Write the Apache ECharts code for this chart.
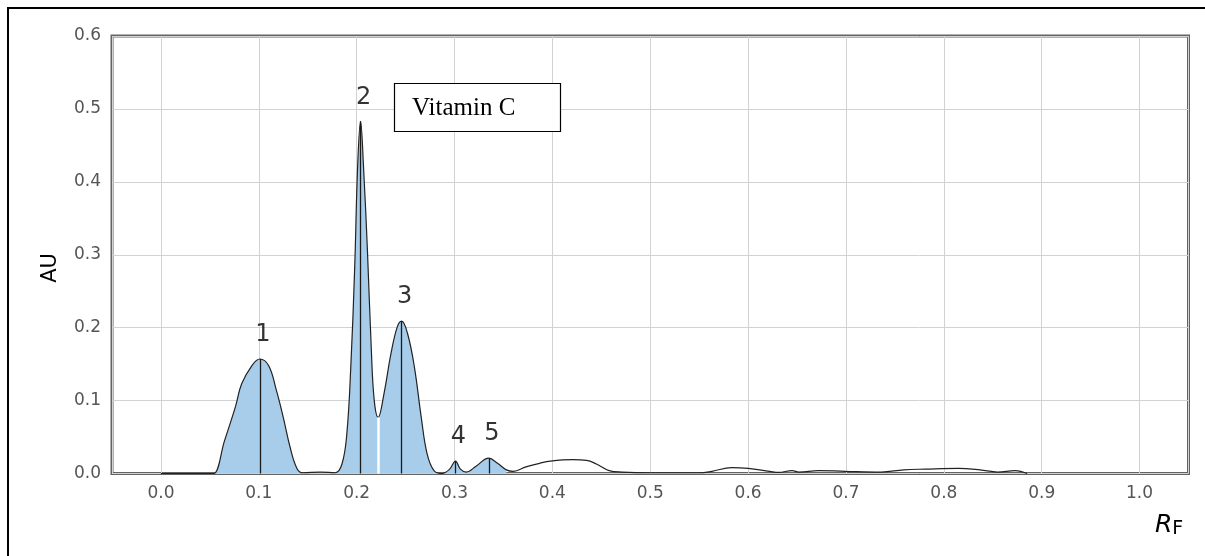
<!DOCTYPE html>
<html>
<head>
<meta charset="utf-8">
<title>Vitamin C densitogram</title>
<script src="https://cdn.jsdelivr.net/npm/echarts@6/dist/echarts.min.js"></script>
<style>
  html, body { margin: 0; padding: 0; background: #fff; }
  #main { width: 1205px; height: 556px; }
</style>
</head>
<body>
<div id="main"></div>
<script>
// densitogram trace (RF, AU)
var rf = [0.00, 0.05, 0.054, 0.065, 0.076, 0.0825, 0.093, 0.101, 0.11, 0.118, 0.125, 0.132, 0.139, 0.145,
  0.163, 0.178, 0.185, 0.190, 0.194, 0.198, 0.201, 0.204, 0.207, 0.211, 0.215, 0.218, 0.222, 0.228,
  0.235, 0.2415, 0.246, 0.252, 0.259, 0.266, 0.272, 0.279, 0.287, 0.295, 0.301, 0.306, 0.312, 0.322,
  0.335, 0.344, 0.353, 0.36, 0.373, 0.387, 0.398, 0.421, 0.435, 0.445, 0.458, 0.471, 0.5, 0.55,
  0.563, 0.583, 0.6, 0.622, 0.631, 0.645, 0.652, 0.672, 0.699, 0.736, 0.759, 0.781, 0.815, 0.837,
  0.855, 0.873, 0.885];
var au = [0, 0, 0, 0.045, 0.091, 0.123, 0.148, 0.157, 0.148, 0.114, 0.077, 0.036, 0.007, 0.001,
  0.002, 0.001, 0.013, 0.055, 0.146, 0.283, 0.421, 0.483, 0.421, 0.306, 0.169, 0.1, 0.077, 0.11,
  0.164, 0.201, 0.209, 0.192, 0.146, 0.077, 0.027, 0.004, 0.0, 0.006, 0.017, 0.006, 0.002, 0.010,
  0.021, 0.014, 0.005, 0.003, 0.009, 0.014, 0.017, 0.019, 0.018, 0.013, 0.004, 0.002, 0.001, 0.001,
  0.003, 0.008, 0.007, 0.003, 0.0015, 0.004, 0.002, 0.004, 0.003, 0.002, 0.005, 0.006, 0.007, 0.005,
  0.002, 0.004, 0.0];
var fillEnd = 0.355; // integrated zone ends here

// peaks
var peakNames = ['1', '2', '3', '4', '5'];
var peakRf = [0.101, 0.204, 0.246, 0.301, 0.335];
var peakAu = [0.157, 0.483, 0.209, 0.017, 0.021];
// valley split between peak 2 and 3
var splitRf = 0.222;
var splitAu = 0.077;

var yTicks = ['0.0', '0.1', '0.2', '0.3', '0.4', '0.5', '0.6'];

var trace = rf.map(function (x, i) { return [x, au[i]]; });
var filled = trace.filter(function (p) { return p[0] <= fillEnd; });

var peakLines = peakRf.map(function (x, i) {
  return [{ coord: [x, 0] }, { coord: [x, peakAu[i]] }];
});
peakLines.push([
  { coord: [splitRf, 0], lineStyle: { color: '#fff', width: 2.5 } },
  { coord: [splitRf, splitAu] }
]);

var chart = echarts.init(document.getElementById('main'));
chart.setOption({
  animation: false,
  backgroundColor: '#fff',
  grid: {
    left: 112, top: 36, right: 16.5, bottom: 82.5,
    show: true, borderColor: '#646464', borderWidth: 3
  },
  xAxis: {
    type: 'value',
    min: -0.05, max: 1.05,
    splitNumber: 11,
    axisLine: { show: false },
    axisTick: { show: false },
    splitLine: { lineStyle: { color: '#d2d2d2', width: 1 } },
    axisLabel: {
      showMinLabel: false, showMaxLabel: false,
      margin: 12, color: '#555', fontSize: 17, fontFamily: 'DejaVu Sans',
      formatter: function (v) { return v.toFixed(1); }
    }
  },
  yAxis: {
    type: 'value',
    min: 0, max: 0.6, interval: 0.1,
    axisLine: { show: false },
    axisTick: { show: false },
    splitLine: { lineStyle: { color: '#d2d2d2', width: 1 } },
    axisLabel: {
      margin: 11, color: '#555', fontSize: 17, fontFamily: 'DejaVu Sans',
      formatter: function (v) { return yTicks[Math.round(v * 10)]; }
    }
  },
  series: [
    {
      type: 'line',
      data: filled,
      smooth: 0.4,
      symbol: 'none',
      lineStyle: { width: 0 },
      areaStyle: { color: '#a8cdeb', opacity: 1 },
      z: 2,
      markLine: {
        silent: true,
        symbol: 'none',
        label: { show: false },
        lineStyle: { color: '#1a1a1a', width: 1.3, type: 'solid' },
        data: peakLines
      }
    },
    {
      type: 'line',
      data: trace,
      smooth: 0.4,
      symbol: 'none',
      lineStyle: { color: '#222', width: 1.2 },
      z: 3
    },
    {
      type: 'scatter',
      symbolSize: 0,
      data: peakRf.map(function (x, i) { return { name: peakNames[i], value: [x, peakAu[i]] }; }),
      label: {
        show: true, position: 'top', distance: 12, offset: [3, 0],
        formatter: '{b}', color: '#000', fontSize: 24, fontFamily: 'DejaVu Sans'
      },
      z: 4
    }
  ],
  graphic: [
    {
      type: 'rect', silent: true,
      shape: { x: 8, y: 8, width: 1210, height: 560 },
      style: { fill: 'none', stroke: '#000', lineWidth: 2 }
    },
    {
      type: 'rect', silent: true,
      shape: { x: 394.5, y: 83.5, width: 166, height: 48 },
      style: { fill: '#fff', stroke: '#000', lineWidth: 1.2 },
      z: 10
    },
    {
      type: 'text', silent: true, x: 412, y: 108, z: 11,
      style: { text: 'Vitamin C', font: '25px "Liberation Serif"', fill: '#000', textVerticalAlign: 'middle' }
    },
    {
      type: 'text', silent: true, x: 51, y: 268, rotation: Math.PI / 2,
      style: { text: 'AU', font: '21px "DejaVu Sans"', fill: '#000', textAlign: 'center', textVerticalAlign: 'middle' }
    },
    {
      type: 'text', silent: true, x: 1155, y: 525,
      style: {
        text: '{r|R}{f|F}',
        textVerticalAlign: 'middle',
        rich: {
          r: { font: 'italic 25px "DejaVu Sans"', fill: '#000' },
          f: { font: '19px "DejaVu Sans"', fill: '#000', padding: [8, 0, 0, 0] }
        }
      }
    }
  ]
});
</script>
</body>
</html>
